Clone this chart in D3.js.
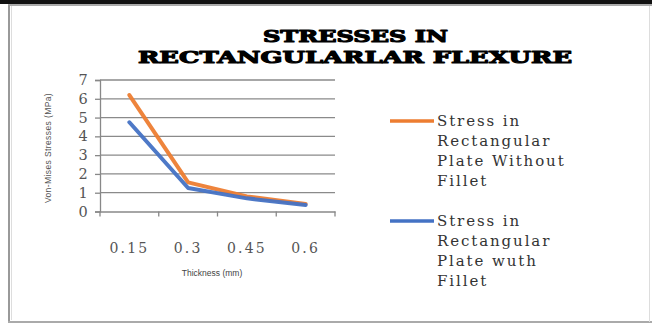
<!DOCTYPE html>
<html>
<head>
<meta charset="utf-8">
<script src="https://cdn.jsdelivr.net/npm/d3@7"></script>
<style>
  html, body { margin: 0; padding: 0; background: #fff; }
  svg { display: block; }
</style>
</head>
<body>
<svg id="chart" width="652" height="324"></svg>
<script>
// Plate thickness categories (mm)
const categories = ["0.15", "0.3", "0.45", "0.6"];
// Von-Mises stress (MPa) for each plate design
const stressWithoutFillet = [6.2, 1.55, 0.8, 0.4];
const stressWithFillet = [4.75, 1.25, 0.7, 0.35];
const yTicks = [0, 1, 2, 3, 4, 5, 6, 7];
const seriesNames = [
  ["Stress in", "Rectangular", "Plate Without", "Fillet"],
  ["Stress in", "Rectangular", "Plate wuth", "Fillet"]
];
const seriesColors = ["#ED7D31", "#4472C4"];

const svg = d3.select("#chart");
const serif = "'DejaVu Serif', 'Liberation Serif', serif";

// Outer frame
svg.append("rect").attr("x", 0).attr("y", 0).attr("width", 652).attr("height", 4).attr("fill", "#111");
svg.append("line").attr("x1", 8).attr("x2", 652).attr("y1", 5).attr("y2", 5).attr("stroke", "#aaa").attr("stroke-width", 2);
svg.append("line").attr("x1", 9).attr("x2", 9).attr("y1", 5).attr("y2", 322).attr("stroke", "#999").attr("stroke-width", 2);
svg.append("line").attr("x1", 11.5).attr("x2", 11.5).attr("y1", 6).attr("y2", 320).attr("stroke", "#ddd").attr("stroke-width", 1);
svg.append("line").attr("x1", 8).attr("x2", 652).attr("y1", 322).attr("y2", 322).attr("stroke", "#aaa").attr("stroke-width", 2);
svg.append("line").attr("x1", 649.5).attr("x2", 649.5).attr("y1", 6).attr("y2", 322).attr("stroke", "#ddd").attr("stroke-width", 1);

// Title (heavy display serif)
const title = svg.append("g").attr("font-family", serif).attr("font-weight", 900)
  .attr("font-size", 16.5).attr("fill", "#000").attr("stroke", "#000").attr("stroke-width", 1.1)
  .attr("stroke-linejoin", "round").attr("text-anchor", "start");
title.append("text").attr("x", 263).attr("y", 42).attr("textLength", 185)
  .attr("lengthAdjust", "spacingAndGlyphs").text("STRESSES IN");
title.append("text").attr("x", 138).attr("y", 63).attr("textLength", 434)
  .attr("lengthAdjust", "spacingAndGlyphs").text("RECTANGULARLAR FLEXURE");

// Scales
const x = d3.scaleBand().domain(categories).range([100, 335]);
const y = d3.scaleLinear().domain([0, 7]).range([211.5, 80]);
const cx = c => x(c) + x.bandwidth() / 2;

// Gridlines
svg.append("g").selectAll("line").data(yTicks.filter(t => t > 0)).join("line")
  .attr("x1", 100).attr("x2", 335)
  .attr("y1", d => y(d)).attr("y2", d => y(d))
  .attr("stroke", "#8a8a8a").attr("stroke-width", 1.3);

// Y axis
const yAxis = svg.append("g").attr("transform", "translate(100,0)")
  .call(d3.axisLeft(y).tickValues(yTicks).tickSize(5).tickPadding(16).tickFormat(d3.format("d")));
yAxis.select(".domain").attr("stroke", "#888").attr("stroke-width", 1.3);
yAxis.selectAll(".tick line").attr("stroke", "#888").attr("stroke-width", 1.3);
yAxis.selectAll("text").attr("font-family", serif).attr("font-size", 14.5).attr("fill", "#555")
  .attr("text-anchor", "middle").attr("dx", "4");

// X axis
const xAxis = svg.append("g").attr("transform", `translate(0,${y(0)})`)
  .call(d3.axisBottom(x).tickSize(0).tickPadding(32));
xAxis.select(".domain").attr("stroke", "#888").attr("stroke-width", 1.3);
xAxis.selectAll("text").attr("font-family", serif).attr("font-size", 14).attr("fill", "#555")
  .attr("letter-spacing", 2.2);
// Tick marks on the category boundaries
svg.append("g").selectAll("line").data(categories.concat(["end"])).join("line")
  .attr("x1", (d, i) => i < categories.length ? x(d) : x.range()[1])
  .attr("x2", (d, i) => i < categories.length ? x(d) : x.range()[1])
  .attr("y1", y(0)).attr("y2", y(0) + 5)
  .attr("stroke", "#888").attr("stroke-width", 1.3);

// Axis titles
svg.append("text").attr("x", 212).attr("y", 276).attr("text-anchor", "middle")
  .attr("font-family", "'Liberation Sans', Arial, sans-serif").attr("font-size", 8.5).attr("fill", "#444")
  .text("Thickness (mm)");
svg.append("text").attr("transform", "translate(51,148) rotate(-90)").attr("text-anchor", "middle")
  .attr("font-family", "'Liberation Sans', Arial, sans-serif").attr("font-size", 8.5).attr("fill", "#555")
  .attr("letter-spacing", 0.4)
  .text("Von-Mises Stresses (MPa)");

// Series lines
const line = d3.line().x(d => cx(d.c)).y(d => y(d.v));
[stressWithoutFillet, stressWithFillet].forEach((vals, i) => {
  svg.append("path")
    .datum(categories.map((c, j) => ({ c, v: vals[j] })))
    .attr("d", line).attr("fill", "none")
    .attr("stroke", seriesColors[i]).attr("stroke-width", 4)
    .attr("stroke-linejoin", "round").attr("stroke-linecap", "round")
    .attr("opacity", 0.95);
});

// Legend
const legend = svg.append("g");
seriesNames.forEach((lines, i) => {
  const top = 121 + i * 100;
  legend.append("line").attr("x1", 390).attr("x2", 434).attr("y1", top).attr("y2", top)
    .attr("stroke", seriesColors[i]).attr("stroke-width", 3.5);
  lines.forEach((t, k) => {
    legend.append("text").attr("x", 437).attr("y", top + 5 + k * 20)
      .attr("font-family", serif).attr("font-size", 15).attr("fill", "#333")
      .attr("letter-spacing", 1.9).text(t);
  });
});
</script>
</body>
</html>
